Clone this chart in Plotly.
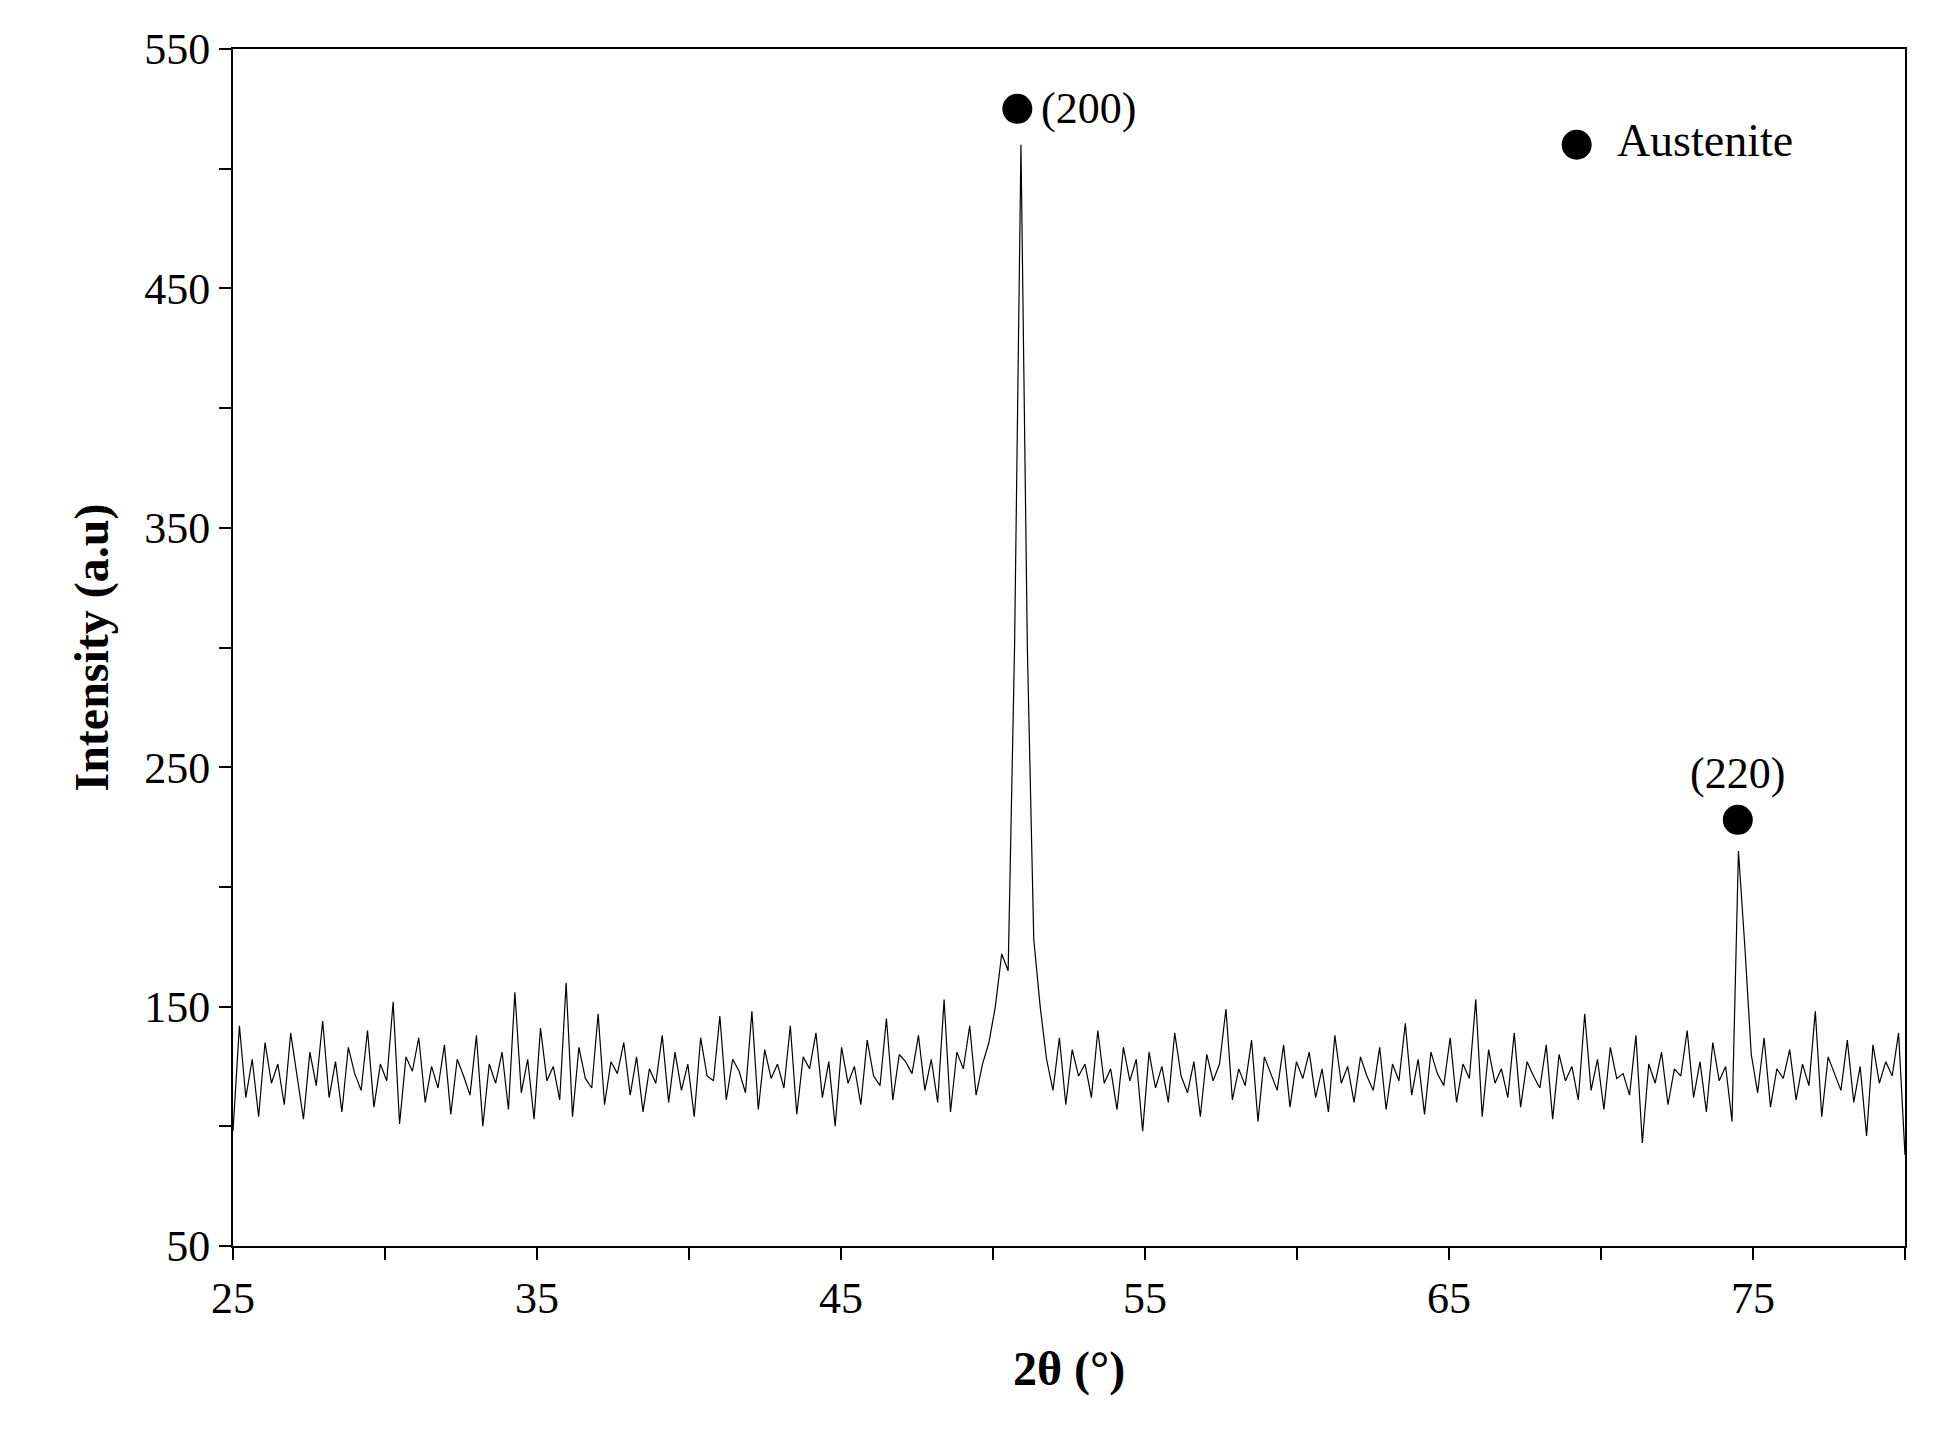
import plotly.graph_objects as go

# Baseline noise readings, 25.0 to 80.0 deg, every 0.2 deg
noise = [
 98,142,112,128,104,135,118,126,109,139,121,103,131,117,144,112,127,106,133,122,
 115,140,108,126,119,152,101,129,123,137,110,125,116,134,105,128,121,113,138,100,
 126,118,131,107,156,114,128,103,141,119,125,111,160,104,133,120,116,147,109,127,
 122,135,113,129,106,124,118,138,110,131,115,126,104,137,121,119,146,111,128,123,
 114,148,107,132,120,126,116,142,105,129,124,139,112,127,100,133,118,125,109,136,
 121,117,145,111,130,127,122,138,115,128,110,153,106,131,124,142,113,126,135,
 150,172,165,300,510,300,178,150,128,115,137,109,132,121,126,112,140,118,124,107,
 133,119,128,98,131,116,125,110,139,121,114,127,104,130,119,126,149,111,124,117,
 136,102,129,122,115,134,108,127,120,131,112,124,106,138,118,125,110,129,121,115,
 133,107,126,119,143,113,128,105,131,122,117,137,110,126,120,153,104,132,118,124,
 112,139,108,127,121,116,134,103,130,119,125,111,147,115,128,107,133,120,122,113,
 138,93,126,118,131,109,124,121,140,112,127,106,135,119,125,102,215,175,130,114,
 137,108,124,120,132,111,126,117,148,104,129,122,115,136,110,125,96,134,118,127,
 121,139,88
]
n = len(noise)
x_vals = [round(25 + i * (55 / (n - 1)), 3) for i in range(n)]

peak_x = [50.8, 74.5]
peak_marker_y = [525, 228]
peak_labels = ["(200)", "(220)"]
legend_x, legend_y = [69.2], [510]
legend_name = "Austenite"

font = "Liberation Serif"
fig = go.Figure()
fig.add_trace(go.Scatter(x=x_vals, y=noise, mode="lines",
                         line=dict(color="black", width=1.2), showlegend=False))
fig.add_trace(go.Scatter(x=peak_x, y=peak_marker_y, mode="markers",
                         marker=dict(color="black", size=30), showlegend=False))
fig.add_trace(go.Scatter(x=legend_x, y=legend_y, mode="markers+text",
                         text=["  " + legend_name], textposition="middle right",
                         textfont=dict(size=46, family=font, color="black"),
                         marker=dict(color="black", size=30), showlegend=False))
fig.add_annotation(x=peak_x[0], y=peak_marker_y[0], text=peak_labels[0], showarrow=False,
                   xanchor="left", xshift=22, font=dict(size=44, family=font, color="black"))
fig.add_annotation(x=peak_x[1], y=peak_marker_y[1], text=peak_labels[1], showarrow=False,
                   yanchor="bottom", yshift=20, font=dict(size=44, family=font, color="black"))

def minor(vals):
    return dict(tickvals=vals, ticks="outside", ticklen=12, tickwidth=1.5, tickcolor="black")

axis_common = dict(showline=True, linecolor="black", linewidth=2, mirror=True,
                   ticks="outside", ticklen=12, tickwidth=1.5, tickcolor="black",
                   showgrid=False, zeroline=False,
                   tickfont=dict(size=44, family=font, color="black"))
fig.update_xaxes(range=[25, 80], tickvals=[25, 35, 45, 55, 65, 75],
                 title=dict(text="<b>2θ (°)</b>", font=dict(size=48, family=font, color="black"),
                            standoff=30),
                 minor=minor([30, 40, 50, 60, 70, 80]), **axis_common)
fig.update_yaxes(range=[50, 550], tickvals=[50, 150, 250, 350, 450, 550],
                 title=dict(text="<b>Intensity (a.u)</b>", font=dict(size=48, family=font, color="black"),
                            standoff=20),
                 minor=minor([100, 200, 300, 400, 500]), **axis_common)
fig.update_layout(width=1938, height=1456, plot_bgcolor="white", paper_bgcolor="white",
                  margin=dict(l=225, r=41, t=41, b=218))
fig.write_html("out.html")
